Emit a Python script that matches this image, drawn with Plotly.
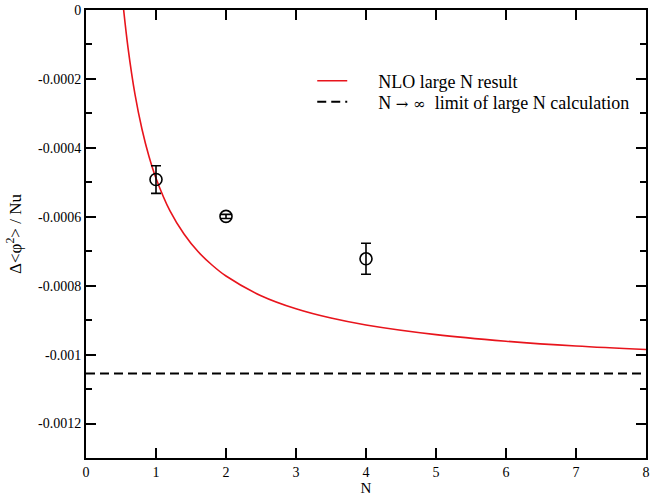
import plotly.graph_objects as go

# Red curve: NLO large N result
curve_n = [0.53, 0.6, 0.7, 0.8, 0.9, 1.0, 1.2, 1.4, 1.6, 1.8, 2.0, 2.5, 3.0, 3.5, 4.0, 5.0, 6.0, 7.0, 8.0]
curve_y = [0.000015, -0.000109, -0.000245, -0.000346, -0.000425, -0.000488, -0.000583, -0.000650,
           -0.000701, -0.000740, -0.000772, -0.000829, -0.000867, -0.000894, -0.000914, -0.000942,
           -0.000961, -0.000975, -0.000985]

# N -> infinity limit
limit_n = [0, 8]
limit_y = [-0.001055, -0.001055]

# Lattice data points with error bars
pts_n = [1, 2, 4]
pts_y = [-0.000492, -0.000599, -0.000722]
pts_err = [0.000040, 0.000006, 0.000045]

ytick_vals = [0, -0.0002, -0.0004, -0.0006, -0.0008, -0.001, -0.0012]
ytick_text = ["0", "-0.0002", "-0.0004", "-0.0006", "-0.0008", "-0.001", "-0.0012"]
xtick_vals = [0, 1, 2, 3, 4, 5, 6, 7, 8]

FONT = "Liberation Serif"
PAD = "\u00a0" * 5 + "\u2009"

fig = go.Figure()
fig.add_trace(go.Scatter(x=curve_n, y=curve_y, mode="lines", line=dict(color="#e8141c", width=1.6, shape="spline"),
                         name=PAD + "NLO large N result", legend="legend"))
fig.add_trace(go.Scatter(x=limit_n, y=limit_y, mode="lines", line=dict(color="black", width=2, dash="9px,5px"),
                         name=PAD + "N <span style=\"font-family:DejaVu Serif;font-size:15px\">\u2192 \u221e</span>  limit of large N calculation",
                         legend="legend2"))
fig.add_trace(go.Scatter(x=pts_n, y=pts_y, mode="markers",
                         marker=dict(symbol="circle-open", size=12, color="black", line=dict(width=1.6, color="black")),
                         error_y=dict(type="data", array=pts_err, visible=True, color="black", thickness=1.6, width=5),
                         showlegend=False))

axis_common = dict(showline=True, linecolor="black", linewidth=2, mirror="allticks", ticks="inside",
                   ticklen=10, tickwidth=1.6, tickcolor="black", showgrid=False, zeroline=False, automargin=False,
                   tickfont=dict(family=FONT, size=14, color="black"))

fig.update_xaxes(range=[0, 8], tickvals=xtick_vals, title=dict(text="N", font=dict(family=FONT, size=15, color="black"), standoff=0),
                 **axis_common)
fig.update_yaxes(range=[-0.0013, 0], tickvals=ytick_vals, ticktext=ytick_text,
                 minor=dict(dtick=0.0001, tick0=0, ticks="inside", ticklen=6, tickwidth=1.6, tickcolor="black"),
                 title=dict(text="\u0394<\u03c6<sup>2</sup>> / Nu", font=dict(family=FONT, size=17, color="black"), standoff=12),
                 **axis_common)

legend_common = dict(xanchor="left", yanchor="middle", bgcolor="rgba(0,0,0,0)",
                     font=dict(family=FONT, size=18, color="black"), itemwidth=30)

fig.update_layout(
    width=667, height=499,
    margin=dict(l=86, r=21, t=10, b=41),
    plot_bgcolor="white", paper_bgcolor="white",
    font=dict(family=FONT, size=14, color="black"),
    legend=dict(x=0.404, y=0.8415, **legend_common),
    legend2=dict(x=0.404, y=0.7946, **legend_common),
)

fig.write_html("out.html", config={"displayModeBar": False},
               post_script="document.body.style.margin='0';document.body.style.overflow='hidden';")
